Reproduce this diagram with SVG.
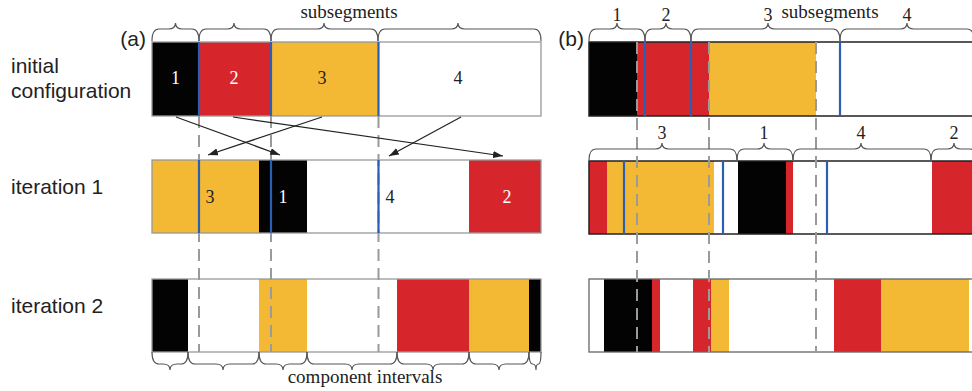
<svg xmlns="http://www.w3.org/2000/svg" width="972" height="391" viewBox="0 0 972 391">
  <style>
    .lbl { font-family: "Liberation Sans", Arial, sans-serif; font-size: 21px; fill: #222; }
    .num { font-family: "Liberation Serif", "Times New Roman", serif; font-size: 18px; fill: #222; text-anchor: middle; }
    .num.w { fill: #fff; }
    .cap { font-family: "Liberation Serif", "Times New Roman", serif; font-size: 19px; fill: #222; text-anchor: middle; }
    .k { fill: #030303; }
    .r { fill: #d7262b; }
    .y { fill: #f3b834; }
    .wf { fill: #fff; }
    .frameA { fill: none; stroke: #999; stroke-width: 1.3; }
    .frameB { fill: none; stroke: #222; stroke-width: 1.5; }
    .frameC { fill: none; stroke: #666; stroke-width: 1.3; }
    .blue { stroke: #2b5fb4; stroke-width: 2.2; }
    .guide { stroke: #9a9a9a; stroke-width: 2; stroke-dasharray: 12 7; fill: none; }
    .brace { fill: none; stroke: #555; stroke-width: 1.2; }
    .arrow { stroke: #222; stroke-width: 1.2; fill: none; marker-end: url(#head); }
  </style>
  <defs>
    <marker id="head" viewBox="0 0 10 7" refX="10" refY="3.5" markerWidth="10" markerHeight="7" markerUnits="userSpaceOnUse" orient="auto">
      <path d="M0,0 L10,3.5 L0,7 z" fill="#222"/>
    </marker>
  </defs>

  <rect width="972" height="391" fill="#fff"/>

  <!-- row labels -->
  <g id="labels">
    <text class="lbl" x="11" y="73">initial</text>
    <text class="lbl" x="11" y="98">configuration</text>
    <text class="lbl" x="11" y="194">iteration 1</text>
    <text class="lbl" x="11" y="313">iteration 2</text>
    <text class="lbl" x="146" y="46" text-anchor="end">(a)</text>
    <text class="lbl" x="584" y="46" text-anchor="end">(b)</text>
  </g>

  <!-- panel (a): initial configuration -->
  <g id="a-initial">
    <rect class="k" x="152" y="42" width="47" height="74"/>
    <rect class="r" x="199" y="42" width="72" height="74"/>
    <rect class="y" x="271" y="42" width="107.5" height="74"/>
    <rect class="wf" x="378.5" y="42" width="162.5" height="74"/>
    <rect class="frameA" x="152" y="42" width="389" height="74"/>
    <text class="num w" x="175.5" y="84">1</text>
    <text class="num w" x="234" y="84">2</text>
    <text class="num" x="322" y="84">3</text>
    <text class="num" x="458" y="84">4</text>
  </g>

  <!-- panel (a): iteration 1 -->
  <g id="a-iter1">
    <rect class="y" x="152" y="160" width="107" height="73"/>
    <rect class="k" x="259" y="160" width="48" height="73"/>
    <rect class="wf" x="307" y="160" width="162" height="73"/>
    <rect class="r" x="469" y="160" width="72" height="73"/>
    <rect class="frameA" x="152" y="160" width="389" height="73"/>
    <text class="num" x="210" y="203">3</text>
    <text class="num w" x="283" y="203">1</text>
    <text class="num" x="390" y="203">4</text>
    <text class="num w" x="507" y="203">2</text>
  </g>

  <!-- panel (a): iteration 2 -->
  <g id="a-iter2">
    <rect class="k" x="152" y="279" width="36" height="73"/>
    <rect class="wf" x="188" y="279" width="71" height="73"/>
    <rect class="y" x="259" y="279" width="48" height="73"/>
    <rect class="wf" x="307" y="279" width="90" height="73"/>
    <rect class="r" x="397" y="279" width="72" height="73"/>
    <rect class="y" x="469" y="279" width="60" height="73"/>
    <rect class="k" x="529" y="279" width="12" height="73"/>
    <rect class="frameA" x="152" y="279" width="389" height="73"/>
  </g>

  <!-- panel (b): initial configuration -->
  <g id="b-initial">
    <rect class="k" x="589" y="42" width="48" height="74"/>
    <rect class="r" x="637" y="42" width="72" height="74"/>
    <rect class="y" x="709" y="42" width="107" height="74"/>
    <rect class="wf" x="816" y="42" width="164" height="74"/>
    <rect class="frameB" x="589" y="42" width="395" height="74"/>
  </g>

  <!-- panel (b): iteration 1 -->
  <g id="b-iter1">
    <rect class="r" x="589" y="161" width="18" height="73"/>
    <rect class="y" x="607" y="161" width="107" height="73"/>
    <rect class="wf" x="714" y="161" width="24" height="73"/>
    <rect class="k" x="738" y="161" width="48" height="73"/>
    <rect class="r" x="786" y="161" width="7" height="73"/>
    <rect class="wf" x="793" y="161" width="139" height="73"/>
    <rect class="r" x="932" y="161" width="48" height="73"/>
    <rect class="frameB" x="589" y="161" width="395" height="73"/>
  </g>

  <!-- panel (b): iteration 2 -->
  <g id="b-iter2">
    <rect class="wf" x="589" y="279" width="15" height="73"/>
    <rect class="k" x="604" y="279" width="48" height="73"/>
    <rect class="r" x="652" y="279" width="8" height="73"/>
    <rect class="wf" x="660" y="279" width="33" height="73"/>
    <rect class="r" x="693" y="279" width="18" height="73"/>
    <rect class="y" x="711" y="279" width="18" height="73"/>
    <rect class="wf" x="729" y="279" width="105" height="73"/>
    <rect class="r" x="834" y="279" width="47" height="73"/>
    <rect class="y" x="881" y="279" width="88" height="73"/>
    <rect class="frameC" x="589" y="279" width="395" height="73"/>
  </g>

  <!-- dashed boundaries carried through the iterations -->
  <g id="guides">
    <line class="guide" x1="199" y1="116" x2="199" y2="352"/>
    <line class="guide" x1="271" y1="116" x2="271" y2="352"/>
    <line class="guide" x1="378.5" y1="116" x2="378.5" y2="352"/>
    <line class="guide" x1="637" y1="42" x2="637" y2="352"/>
    <line class="guide" x1="709" y1="42" x2="709" y2="352"/>
    <line class="guide" x1="816" y1="42" x2="816" y2="352"/>
  </g>

  <!-- subsegment boundaries -->
  <g id="boundaries">
    <line class="blue" x1="199" y1="42" x2="199" y2="116"/>
    <line class="blue" x1="271" y1="42" x2="271" y2="116"/>
    <line class="blue" x1="378.5" y1="42" x2="378.5" y2="116"/>
    <line class="blue" x1="199" y1="160" x2="199" y2="233"/>
    <line class="blue" x1="271" y1="160" x2="271" y2="233"/>
    <line class="blue" x1="378.5" y1="160" x2="378.5" y2="233"/>
    <line class="blue" x1="645" y1="42" x2="645" y2="116"/>
    <line class="blue" x1="691" y1="42" x2="691" y2="116"/>
    <line class="blue" x1="840" y1="42" x2="840" y2="116"/>
    <line class="blue" x1="624" y1="161" x2="624" y2="234"/>
    <line class="blue" x1="723" y1="161" x2="723" y2="234"/>
    <line class="blue" x1="827" y1="161" x2="827" y2="234"/>
  </g>

  <!-- braces and their captions -->
  <g id="braces">
    <path class="brace" d="M152,41 Q152,29 159,29 L168.5,29 Q175.5,29 175.5,23 Q175.5,29 182.5,29 L192,29 Q199,29 199,41"/>
    <path class="brace" d="M199,41 Q199,29 206,29 L227,29 Q234,29 234,23 Q234,29 241,29 L264,29 Q271,29 271,41"/>
    <path class="brace" d="M271,41 Q271,29 278,29 L317,29 Q324,29 324,23 Q324,29 331,29 L371,29 Q378,29 378,41"/>
    <path class="brace" d="M378,41 Q378,29 385,29 L451,29 Q458,29 458,23 Q458,29 465,29 L534,29 Q541,29 541,41"/>
    <text class="cap" x="349" y="18">subsegments</text>

    <path class="brace" d="M589,41 Q589,29 596,29 L610,29 Q617,29 617,23 Q617,29 624,29 L638,29 Q645,29 645,41"/>
    <path class="brace" d="M645,41 Q645,29 652,29 L659,29 Q666,29 666,23 Q666,29 673,29 L684,29 Q691,29 691,41"/>
    <path class="brace" d="M691,41 Q691,29 698,29 L761,29 Q768,29 768,23 Q768,29 775,29 L833,29 Q840,29 840,41"/>
    <path class="brace" d="M840,41 Q840,29 847,29 L900,29 Q907,29 907,23 Q907,29 914,29 L967,29 Q974,29 974,41"/>
    <text class="num" x="617" y="21">1</text>
    <text class="num" x="666" y="21">2</text>
    <text class="num" x="768" y="21">3</text>
    <text class="num" x="907" y="21">4</text>
    <text class="cap" x="830" y="18">subsegments</text>

    <path class="brace" d="M589,160 Q589,149 596,149 L655,149 Q662,149 662,143 Q662,149 669,149 L730,149 Q737,149 737,160"/>
    <path class="brace" d="M737,160 Q737,149 744,149 L757,149 Q764,149 764,143 Q764,149 771,149 L786,149 Q793,149 793,160"/>
    <path class="brace" d="M793,160 Q793,149 800,149 L854,149 Q861,149 861,143 Q861,149 868,149 L924,149 Q931,149 931,160"/>
    <path class="brace" d="M931,160 Q931,149 938,149 L947,149 Q954,149 954,143 Q954,149 961,149 L970,149 Q977,149 977,160"/>
    <text class="num" x="662" y="139">3</text>
    <text class="num" x="764" y="139">1</text>
    <text class="num" x="861" y="139">4</text>
    <text class="num" x="954" y="139">2</text>

    <path class="brace" d="M152,352 Q152,364 159,364 L163,364 Q170,364 170,370 Q170,364 177,364 L181,364 Q188,364 188,352"/>
    <path class="brace" d="M188,352 Q188,364 195,364 L216,364 Q223,364 223,370 Q223,364 230,364 L252,364 Q259,364 259,352"/>
    <path class="brace" d="M259,352 Q259,364 266,364 L276,364 Q283,364 283,370 Q283,364 290,364 L300,364 Q307,364 307,352"/>
    <path class="brace" d="M307,352 Q307,364 314,364 L345,364 Q352,364 352,370 Q352,364 359,364 L390,364 Q397,364 397,352"/>
    <path class="brace" d="M397,352 Q397,364 404,364 L426,364 Q433,364 433,370 Q433,364 440,364 L462,364 Q469,364 469,352"/>
    <path class="brace" d="M469,352 Q469,364 476,364 L492,364 Q499,364 499,370 Q499,364 506,364 L522,364 Q529,364 529,352"/>
    <path class="brace" d="M529,352 Q529,364 532.5,364 Q536,364 536,370 Q536,364 538.5,364 Q541,364 541,352"/>
    <text class="cap" x="365" y="383">component intervals</text>
  </g>

  <!-- permutation of subsegments -->
  <g id="connectors">
    <line class="arrow" x1="176" y1="117" x2="280" y2="155"/>
    <line class="arrow" x1="233" y1="117" x2="503" y2="156"/>
    <line class="arrow" x1="322" y1="117" x2="208" y2="155"/>
    <line class="arrow" x1="461" y1="117" x2="389" y2="156"/>
  </g>
</svg>
